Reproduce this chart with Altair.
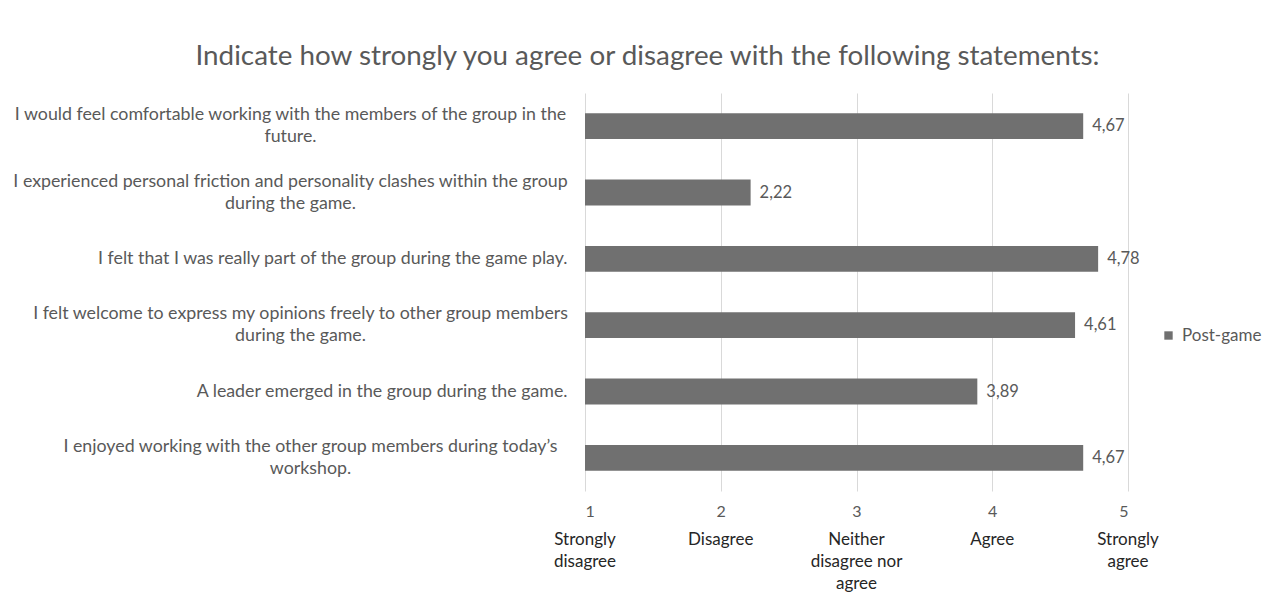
import altair as alt
import pandas as pd

statements = [
    "I would feel comfortable working with the members of the group in the|future.",
    "I experienced personal friction and personality clashes within the group|during the game.",
    "I felt that I was really part of the group during the game play.",
    "I felt welcome to express my opinions freely to other group members|during the game.",
    "A leader emerged in the group during the game.",
    "I enjoyed working with the other group members during today\u2019s|workshop.",
]
values = [4.67, 2.22, 4.78, 4.61, 3.89, 4.67]
series_name = "Post-game"
scale_ticks = [1, 2, 3, 4, 5]
scale_names = ["Strongly\ndisagree", "Disagree", "Neither\ndisagree nor\nagree", "Agree", "Strongly\nagree"]

FONT = "Lato"
GRAY = "#595959"
BAR = "#707070"
W, H = 543, 398

df = pd.DataFrame({"statement": statements, "value": values, "series": series_name})
cats = pd.DataFrame({"x": scale_ticks, "name": scale_names})

# label padding for centered two-line labels (half block width + gap)
half_w = {statements[0]: 277, statements[1]: 277, statements[3]: 267, statements[5]: 257}
pad_cond = [{"test": f"datum.value == {repr(k)}", "value": v + 18} for k, v in half_w.items()]
multi = "indexof(datum.value, '|') >= 0"

xscale = alt.Scale(domain=[1, 5], nice=False, zero=False)
yenc = alt.Y(
    "statement:N",
    sort=statements,
    scale=alt.Scale(paddingInner=0.61, paddingOuter=0.305),
    axis=alt.Axis(
        title=None, domain=False, ticks=False, grid=False,
        labelExpr="split(datum.label, '|')",
        labelFont=FONT, labelFontSize=17.8, labelColor=GRAY,
        labelLineHeight=22, labelLimit=700,
        labelAlign={"condition": {"test": multi, "value": "center"}, "value": "right"},
        labelOffset={"condition": {"test": multi, "value": -11}, "value": 0},
        labelPadding={"condition": pad_cond, "value": 18},
    ),
)

bars = alt.Chart(df).mark_bar(color=BAR).encode(
    x=alt.X("value:Q", scale=xscale,
            axis=alt.Axis(title=None, values=scale_ticks, format="d", grid=True,
                          gridColor="#d9d9d9", domain=False, ticks=False,
                          labelFont=FONT, labelFontSize=16, labelColor=GRAY,
                          labelPadding=12)),
    x2=alt.datum(1),
    y=yenc,
    color=alt.Color("series:N",
                    scale=alt.Scale(domain=[series_name], range=[BAR]),
                    legend=alt.Legend(title=None, orient="none", legendX=575, legendY=234,
                                      symbolType="square", symbolSize=70,
                                      symbolStrokeWidth=0, labelFont=FONT,
                                      labelFontSize=17, labelColor=GRAY,
                                      labelOffset=5, padding=0)),
)

labels = alt.Chart(df).transform_calculate(
    lbl="replace(format(datum.value, '.2f'), '.', ',')"
).mark_text(align="left", baseline="middle", dx=9, font=FONT, fontSize=16.5, color=GRAY).encode(
    x=alt.X("value:Q", scale=xscale),
    y=alt.Y("statement:N", sort=statements),
    text="lbl:N",
)

catlabels = alt.Chart(cats).mark_text(
    align="center", baseline="top", lineBreak="\n", lineHeight=22,
    font=FONT, fontSize=17, color="#262626"
).encode(
    x=alt.X("x:Q", scale=xscale),
    y=alt.value(H + 41),
    text="name:N",
)

chart = alt.layer(bars, labels, catlabels).properties(
    width=W, height=H,
    autosize=alt.AutoSizeParams(type="none"),
    padding={"left": 577, "top": 85, "right": 136, "bottom": 103},
    title=alt.TitleParams(
        "Indicate how strongly you agree or disagree with the following statements:",
        font=FONT, fontSize=27.8, fontWeight="normal", color=GRAY,
        anchor="middle", dx=-209, offset=22,
    ),
).configure_view(stroke=None)

chart.save("out.html", embed_options={"renderer": "svg", "actions": False})
